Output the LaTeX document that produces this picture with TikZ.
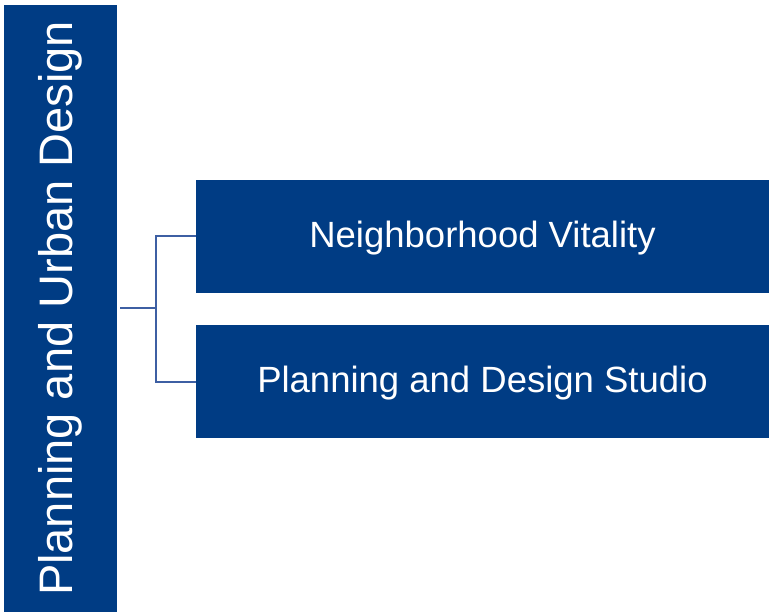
\documentclass[tikz,border=0pt]{standalone}
\usepackage{fontspec}
\setmainfont{Liberation Sans}
\usepackage{tikz}
\usetikzlibrary{positioning}
\definecolor{unitblue}{HTML}{003C84}
\definecolor{linkblue}{HTML}{3D5FA3}
\tikzset{
  topic/.style={fill=unitblue, text=white, inner sep=0pt, font=\fontsize{47}{50}\selectfont},
  program/.style={fill=unitblue, text=white, inner sep=0pt, minimum width=573pt, minimum height=113pt,
    text height=22.4pt, text depth=0pt, font=\fontsize{36.5}{40}\selectfont},
  link/.style={linkblue, line width=2pt}
}

\begin{document}
\begin{tikzpicture}[x=1pt, y=-1pt]
      \useasboundingbox (0, 0) rectangle (771, 612);
      % the department bar on the left, text running upward
      \node[topic, minimum width=607pt, minimum height=113.5pt, rotate=90] (dept) at (60.25, 308.5) {Planning and Urban Design};
      % the two programs
      \node[program] (vitality) at (482.5, 236.5) {Neighborhood Vitality};
      \node[program] (studio) at (482.5, 381.5) {Planning and Design Studio};
      % bracket joining them
      \coordinate (fork) at (156, 308.5);
      \draw[link] ([xshift=3pt]dept.south) -- (fork);
      \draw[link] (vitality.west) -- (fork |- vitality.west) -- (fork |- studio.west) -- (studio.west);
    \end{tikzpicture}
\end{document}
